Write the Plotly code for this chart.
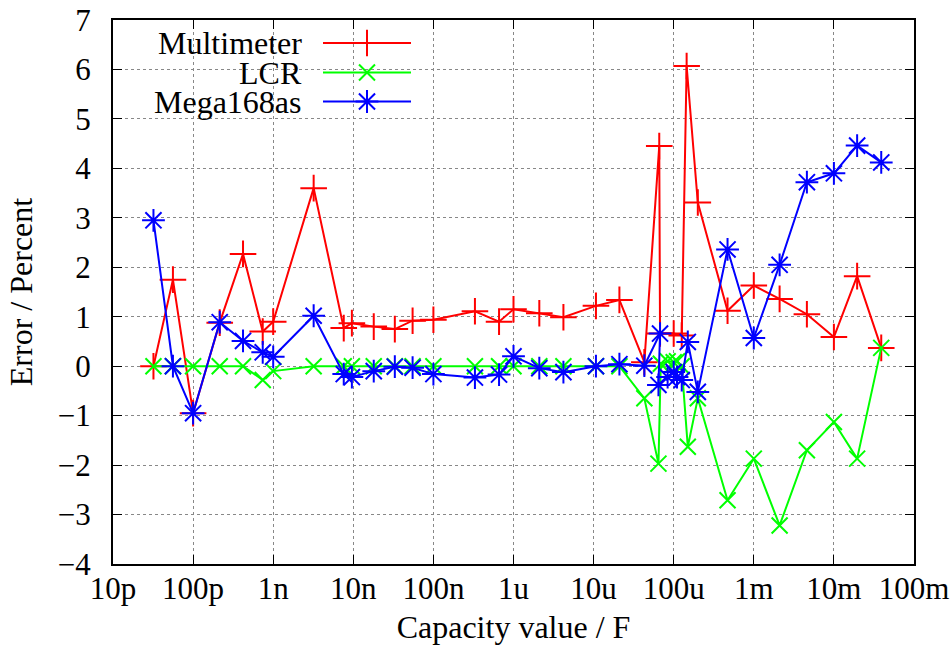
import plotly.graph_objects as go

# ---------------- data ----------------
mm_cap = [3.2e-11, 5.6e-11, 1e-10, 2.15e-10, 4.2e-10, 7.4e-10, 1e-9, 3.2e-9, 7.6e-9, 9.6e-9,
          1.8e-8, 3.3e-8, 5.5e-8, 1e-7, 3.3e-7, 6.6e-7, 1e-6, 2.1e-6, 4.2e-6, 1.07e-5,
          2.1e-5, 4.3e-5, 6.6e-5, 6.75e-5, 1.0e-4, 1.26e-4, 1.45e-4, 2.0e-4, 4.7e-4, 1e-3,
          2.1e-3, 4.6e-3, 1e-2, 1.95e-2, 3.9e-2]
mm_err = [0, 1.75, -0.95, 0.88, 2.27, 0.70, 0.90, 3.60, 0.77, 0.87,
          0.80, 0.75, 0.92, 0.94, 1.11, 0.90, 1.15, 1.07, 0.99, 1.22,
          1.34, 0.08, 4.45, 0.66, 0.66, 0.62, 6.07, 3.31, 1.12, 1.63,
          1.36, 1.05, 0.59, 1.82, 0.37]

lcr_cap = [3.2e-11, 5.6e-11, 1e-10, 2.15e-10, 4.2e-10, 7.4e-10, 1e-9, 3.2e-9, 7.6e-9, 9.6e-9,
           1.8e-8, 3.3e-8, 5.5e-8, 1e-7, 3.3e-7, 6.6e-7, 1e-6, 2.1e-6, 4.2e-6, 1.07e-5,
           2.1e-5, 4.3e-5, 6.45e-5, 6.9e-5, 8.4e-5, 1.0e-4, 1.1e-4, 1.26e-4, 1.5e-4, 2.0e-4,
           4.7e-4, 1e-3, 2.1e-3, 4.6e-3, 1e-2, 1.95e-2, 3.9e-2]
lcr_err = [0, 0, 0, 0, 0, -0.28, -0.1, 0, 0, 0,
           0, 0, 0, 0, 0, 0, 0, 0, 0, 0,
           0, -0.65, -1.97, 0.05, 0.1, 0.08, 0.1, 0.0, -1.63, -0.65,
           -2.71, -1.87, -3.22, -1.70, -1.13, -1.87, 0.37]

mega_cap = [3.2e-11, 5.6e-11, 1e-10, 2.15e-10, 4.2e-10, 7.4e-10, 1e-9, 3.2e-9, 7.6e-9, 9.6e-9,
            1.8e-8, 3.3e-8, 5.5e-8, 1e-7, 3.3e-7, 6.6e-7, 1e-6, 2.1e-6, 4.2e-6, 1.07e-5,
            2.1e-5, 4.3e-5, 6.75e-5, 6.45e-5, 8.4e-5, 1.0e-4, 1.1e-4, 1.26e-4, 1.5e-4, 2.0e-4,
            4.7e-4, 1e-3, 2.1e-3, 4.6e-3, 1e-2, 1.95e-2, 3.9e-2]
mega_err = [2.95, 0, -0.95, 0.89, 0.51, 0.28, 0.19, 1.02, -0.16, -0.22,
            -0.1, -0.01, -0.03, -0.16, -0.23, -0.17, 0.2, -0.04, -0.12, 0,
            0.04, 0.01, 0.66, -0.38, -0.22, -0.12, -0.22, -0.28, 0.49, -0.52,
            2.36, 0.57, 2.05, 3.72, 3.9, 4.46, 4.12]

x_tick_vals = [1e-11, 1e-10, 1e-9, 1e-8, 1e-7, 1e-6, 1e-5, 1e-4, 1e-3, 1e-2, 1e-1]
x_tick_text = ["10p", "100p", "1n", "10n", "100n", "1u", "10u", "100u", "1m", "10m", "100m"]
y_tick_vals = [-4, -3, -2, -1, 0, 1, 2, 3, 4, 5, 6, 7]

series_names = ["Multimeter", "LCR", "Mega168as"]
series_colors = ["#ff0000", "#00ff00", "#0000ff"]
series_symbols = ["cross-thin", "x-thin", "asterisk"]
series_sizes = [19, 16, 19]

FONT = "Liberation Serif, DejaVu Serif, serif"
FS_TICK = 31
FS_TEXT = 32

fig = go.Figure()
data = [(mm_cap, mm_err), (lcr_cap, lcr_err), (mega_cap, mega_err)]
for (cx, ey), name, col, sym, sz in zip(data, series_names, series_colors, series_symbols, series_sizes):
    fig.add_trace(go.Scatter(
        x=cx, y=ey, mode="lines+markers", name=name,
        line=dict(color=col, width=2),
        marker=dict(symbol=sym, size=sz, color=col, line=dict(color=col, width=2)),
        showlegend=False, cliponaxis=False,
    ))

# gnuplot-style key (text right-aligned, sample on the right), in pixel-unit overlay axes
key_rows_y = [43, 72.5, 101.5]
for name, col, sym, sz, ky in zip(series_names, series_colors, series_symbols, series_sizes, key_rows_y):
    fig.add_trace(go.Scatter(
        x=[323, 411], y=[ky, ky], mode="lines", xaxis="x2", yaxis="y2",
        line=dict(color=col, width=2), showlegend=False, hoverinfo="skip"))
    fig.add_trace(go.Scatter(
        x=[367], y=[ky], mode="markers", xaxis="x2", yaxis="y2",
        marker=dict(symbol=sym, size=sz, color=col, line=dict(color=col, width=2)),
        showlegend=False, hoverinfo="skip"))
    fig.add_annotation(x=304, y=ky, xref="x2", yref="y2", text=name, showarrow=False,
                       xanchor="right", yanchor="middle",
                       font=dict(family=FONT, size=FS_TEXT, color="black"))

axis_common = dict(
    showline=True, linecolor="black", linewidth=2, mirror="ticks",
    ticks="inside", ticklen=9, tickwidth=1, tickcolor="black",
    showgrid=True, gridcolor="#888888", griddash="dot", gridwidth=1,
    zeroline=False, automargin=False, ticklabeloverflow="allow",
    tickfont=dict(family=FONT, size=FS_TICK, color="black"),
)

fig.update_layout(
    width=951, height=652,
    margin=dict(l=113, r=37, t=20, b=88),
    paper_bgcolor="white", plot_bgcolor="white",
    xaxis=dict(type="log", range=[-11, -1], tickvals=x_tick_vals, ticktext=x_tick_text,
               title=dict(text="Capacity value / F", font=dict(family=FONT, size=FS_TEXT, color="black"),
                          standoff=10),
               ticklabelstandoff=-4, **axis_common),
    yaxis=dict(range=[-4, 7], tickvals=y_tick_vals,
               title=dict(text="Error / Percent", font=dict(family=FONT, size=FS_TEXT, color="black"),
                          standoff=16),
               ticklabelstandoff=14, **axis_common),
    xaxis2=dict(range=[113, 914], overlaying="x", anchor="y2", visible=False, fixedrange=True),
    yaxis2=dict(range=[564, 20], overlaying="y", anchor="x2", visible=False, fixedrange=True),
    showlegend=False,
)

fig.write_html("out.html", config={"displayModeBar": False},
               post_script="document.body.style.margin='0';document.body.style.overflow='hidden';")
